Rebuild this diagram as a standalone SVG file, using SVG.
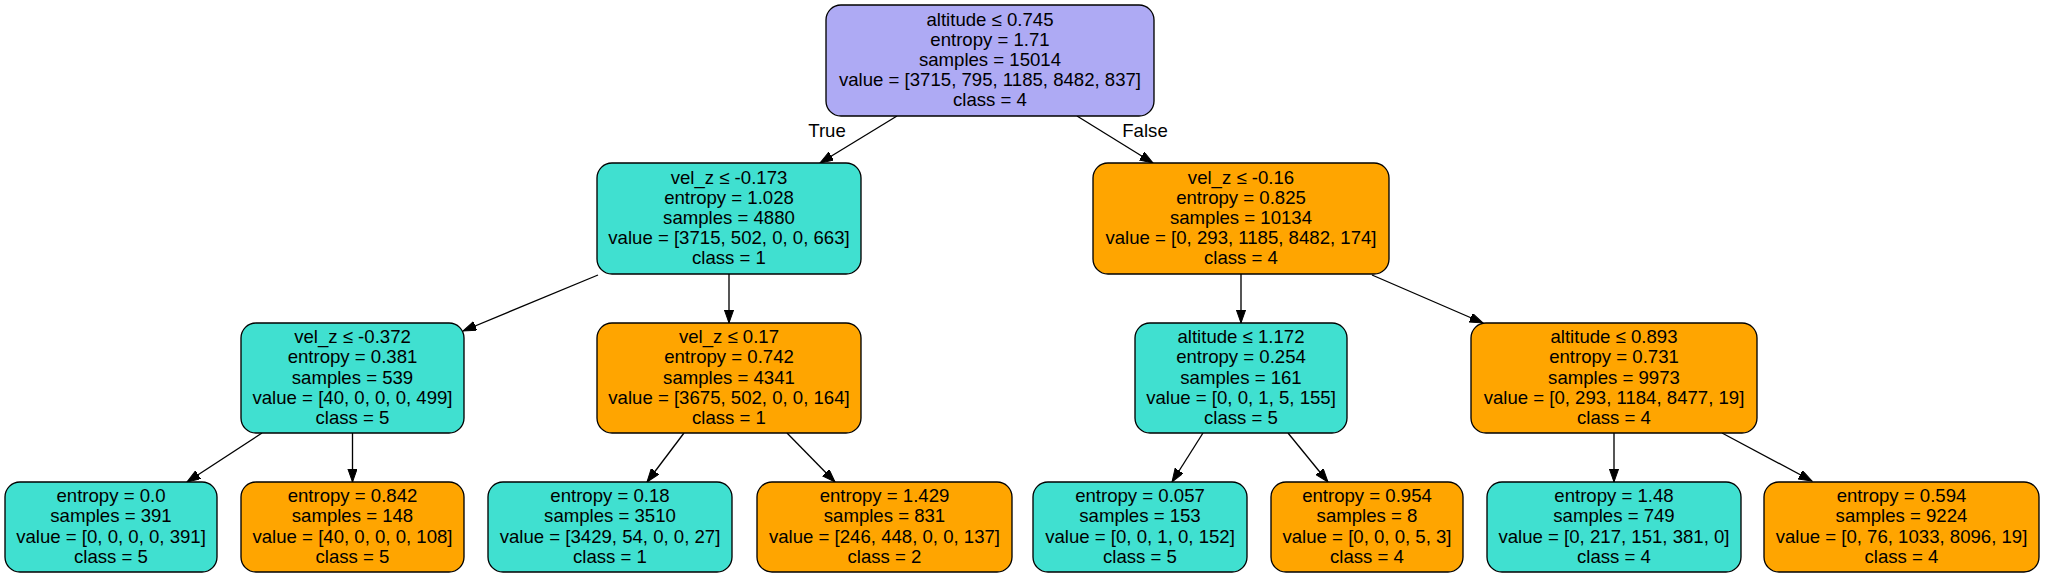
<svg xmlns="http://www.w3.org/2000/svg" width="2045" height="577" viewBox="0 0 2045 577">
<defs>
<style>
.n rect{stroke:#000;stroke-width:1.33}
.t{fill:#40e0d0}
.o{fill:#ffa500}
.p{fill:#aeaaf4}
text{font-family:"Liberation Sans",Arial,Helvetica,sans-serif;font-size:18.6px;fill:#000;text-anchor:middle}
.e path{stroke:#000;stroke-width:1.33;fill:none;marker-end:url(#ah)}
</style>
<marker id="ah" markerUnits="userSpaceOnUse" markerWidth="14" markerHeight="10" refX="13.3" refY="4.7" orient="auto" viewBox="0 0 14 10">
<path d="M0,0 L13.3,4.7 L0,9.4 z" fill="#000" stroke="#000" stroke-width="1"/>
</marker>
</defs>
<rect width="2045" height="577" fill="#fff"/>
<g id="edges" class="e">
<path d="M897,116 L820,163"/>
<path d="M1077,116 L1153,163"/>
<path d="M598,275 L463,331"/>
<path d="M729,274 L729,323"/>
<path d="M262,433 L187,482"/>
<path d="M352.5,433 L352.5,482"/>
<path d="M684,433 L647,482"/>
<path d="M787,433 L835,482"/>
<path d="M1241,274 L1241,323"/>
<path d="M1372,275 L1483,323"/>
<path d="M1203,433 L1172,482"/>
<path d="M1288,433 L1328,482"/>
<path d="M1614,433 L1614,482"/>
<path d="M1722,433 L1812,481"/>
</g>
<g id="edge-labels">
<text x="827" y="136.5">True</text>
<text x="1145" y="136.5">False</text>
</g>
<g id="node0" class="n">
<rect class="p" x="826" y="5" width="328" height="111" rx="15"/>
<text x="990" y="25.6">altitude ≤ 0.745</text>
<text x="990" y="45.8">entropy = 1.71</text>
<text x="990" y="66">samples = 15014</text>
<text x="990" y="86.2">value = [3715, 795, 1185, 8482, 837]</text>
<text x="990" y="106.4">class = 4</text>
</g>
<g id="node1" class="n">
<rect class="t" x="597" y="163" width="264" height="111" rx="15"/>
<text x="729" y="183.6">vel_z ≤ -0.173</text>
<text x="729" y="203.8">entropy = 1.028</text>
<text x="729" y="224">samples = 4880</text>
<text x="729" y="244.2">value = [3715, 502, 0, 0, 663]</text>
<text x="729" y="264.4">class = 1</text>
</g>
<g id="node8" class="n">
<rect class="o" x="1093" y="163" width="296" height="111" rx="15"/>
<text x="1241" y="183.6">vel_z ≤ -0.16</text>
<text x="1241" y="203.8">entropy = 0.825</text>
<text x="1241" y="224">samples = 10134</text>
<text x="1241" y="244.2">value = [0, 293, 1185, 8482, 174]</text>
<text x="1241" y="264.4">class = 4</text>
</g>
<g id="node2" class="n">
<rect class="t" x="241" y="323" width="223" height="110" rx="15"/>
<text x="352.5" y="343.1">vel_z ≤ -0.372</text>
<text x="352.5" y="363.3">entropy = 0.381</text>
<text x="352.5" y="383.5">samples = 539</text>
<text x="352.5" y="403.7">value = [40, 0, 0, 0, 499]</text>
<text x="352.5" y="423.9">class = 5</text>
</g>
<g id="node5" class="n">
<rect class="o" x="597" y="323" width="264" height="110" rx="15"/>
<text x="729" y="343.1">vel_z ≤ 0.17</text>
<text x="729" y="363.3">entropy = 0.742</text>
<text x="729" y="383.5">samples = 4341</text>
<text x="729" y="403.7">value = [3675, 502, 0, 0, 164]</text>
<text x="729" y="423.9">class = 1</text>
</g>
<g id="node9" class="n">
<rect class="t" x="1135" y="323" width="212" height="110" rx="15"/>
<text x="1241" y="343.1">altitude ≤ 1.172</text>
<text x="1241" y="363.3">entropy = 0.254</text>
<text x="1241" y="383.5">samples = 161</text>
<text x="1241" y="403.7">value = [0, 0, 1, 5, 155]</text>
<text x="1241" y="423.9">class = 5</text>
</g>
<g id="node12" class="n">
<rect class="o" x="1471" y="323" width="286" height="110" rx="15"/>
<text x="1614" y="343.1">altitude ≤ 0.893</text>
<text x="1614" y="363.3">entropy = 0.731</text>
<text x="1614" y="383.5">samples = 9973</text>
<text x="1614" y="403.7">value = [0, 293, 1184, 8477, 19]</text>
<text x="1614" y="423.9">class = 4</text>
</g>
<g id="node3" class="n">
<rect class="t" x="5" y="482" width="212" height="90" rx="15"/>
<text x="111" y="502.2">entropy = 0.0</text>
<text x="111" y="522.4">samples = 391</text>
<text x="111" y="542.6">value = [0, 0, 0, 0, 391]</text>
<text x="111" y="562.8">class = 5</text>
</g>
<g id="node4" class="n">
<rect class="o" x="241" y="482" width="223" height="90" rx="15"/>
<text x="352.5" y="502.2">entropy = 0.842</text>
<text x="352.5" y="522.4">samples = 148</text>
<text x="352.5" y="542.6">value = [40, 0, 0, 0, 108]</text>
<text x="352.5" y="562.8">class = 5</text>
</g>
<g id="node6" class="n">
<rect class="t" x="488" y="482" width="244" height="90" rx="15"/>
<text x="610" y="502.2">entropy = 0.18</text>
<text x="610" y="522.4">samples = 3510</text>
<text x="610" y="542.6">value = [3429, 54, 0, 0, 27]</text>
<text x="610" y="562.8">class = 1</text>
</g>
<g id="node7" class="n">
<rect class="o" x="757" y="482" width="255" height="90" rx="15"/>
<text x="884.5" y="502.2">entropy = 1.429</text>
<text x="884.5" y="522.4">samples = 831</text>
<text x="884.5" y="542.6">value = [246, 448, 0, 0, 137]</text>
<text x="884.5" y="562.8">class = 2</text>
</g>
<g id="node10" class="n">
<rect class="t" x="1033" y="482" width="214" height="90" rx="15"/>
<text x="1140" y="502.2">entropy = 0.057</text>
<text x="1140" y="522.4">samples = 153</text>
<text x="1140" y="542.6">value = [0, 0, 1, 0, 152]</text>
<text x="1140" y="562.8">class = 5</text>
</g>
<g id="node11" class="n">
<rect class="o" x="1271" y="482" width="192" height="90" rx="15"/>
<text x="1367" y="502.2">entropy = 0.954</text>
<text x="1367" y="522.4">samples = 8</text>
<text x="1367" y="542.6">value = [0, 0, 0, 5, 3]</text>
<text x="1367" y="562.8">class = 4</text>
</g>
<g id="node13" class="n">
<rect class="t" x="1487" y="482" width="254" height="90" rx="15"/>
<text x="1614" y="502.2">entropy = 1.48</text>
<text x="1614" y="522.4">samples = 749</text>
<text x="1614" y="542.6">value = [0, 217, 151, 381, 0]</text>
<text x="1614" y="562.8">class = 4</text>
</g>
<g id="node14" class="n">
<rect class="o" x="1764" y="482" width="275" height="90" rx="15"/>
<text x="1901.5" y="502.2">entropy = 0.594</text>
<text x="1901.5" y="522.4">samples = 9224</text>
<text x="1901.5" y="542.6">value = [0, 76, 1033, 8096, 19]</text>
<text x="1901.5" y="562.8">class = 4</text>
</g>
</svg>
